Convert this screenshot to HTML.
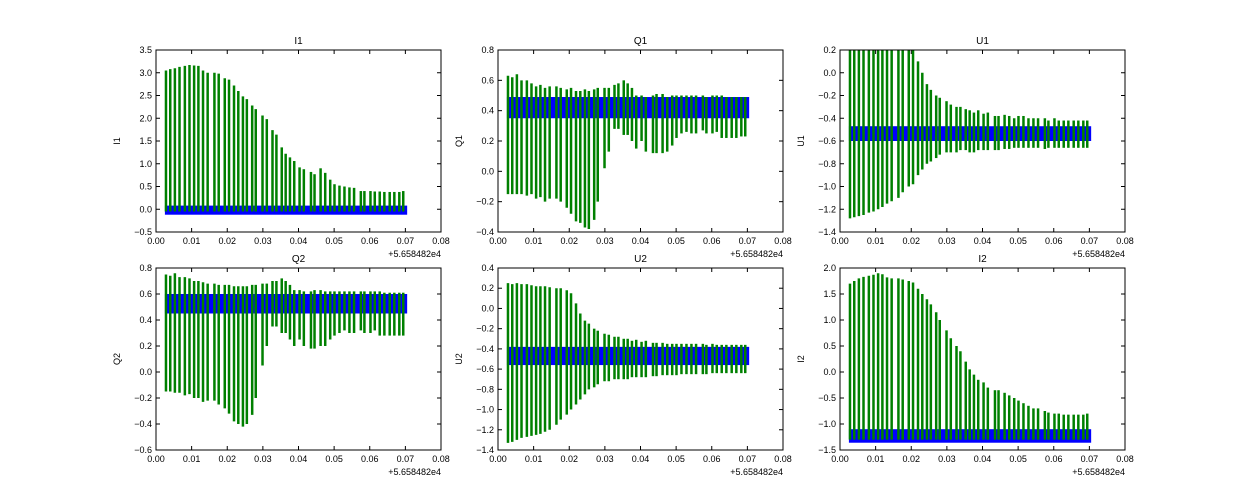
<!DOCTYPE html>
<html><head><meta charset="utf-8"><style>
body{margin:0;background:#fff;}
svg{display:block;font-family:"Liberation Sans",sans-serif;}
</style></head><body>
<svg id="fig" width="1250" height="500"></svg>
<script>
const spikeX=[0.0028,0.0040,0.0053,0.0066,0.0081,0.0094,0.0107,0.0119,0.0132,0.0145,0.0164,0.0176,0.0193,0.0205,0.0219,0.0231,0.0244,0.0255,0.0270,0.0280,0.0299,0.0311,0.0327,0.0338,0.0353,0.0364,0.0376,0.0388,0.0403,0.0415,0.0435,0.0445,0.0462,0.0475,0.0489,0.0501,0.0515,0.0529,0.0543,0.0556,0.0575,0.0585,0.0602,0.0614,0.0628,0.0641,0.0656,0.0669,0.0683,0.0694];
const xTicks=[0,0.01,0.02,0.03,0.04,0.05,0.06,0.07,0.08];
const xTickLabels=["0.00","0.01","0.02","0.03","0.04","0.05","0.06","0.07","0.08"];
const i1Hi=[3.05,3.08,3.1,3.13,3.15,3.17,3.16,3.15,3.05,3.0,3.0,2.98,2.88,2.85,2.72,2.6,2.48,2.42,2.28,2.2,2.06,1.98,1.74,1.64,1.36,1.22,1.14,1.06,0.92,0.88,0.82,0.77,0.9,0.8,0.65,0.55,0.52,0.5,0.48,0.47,0.4,0.4,0.4,0.39,0.39,0.38,0.38,0.38,0.38,0.4];
const i1Lo=spikeX.map(()=>-0.05);
const q1Hi=[0.63,0.62,0.64,0.6,0.6,0.58,0.56,0.57,0.55,0.56,0.56,0.55,0.54,0.55,0.53,0.53,0.54,0.53,0.54,0.55,0.55,0.55,0.57,0.58,0.6,0.58,0.55,0.5,0.5,0.49,0.5,0.51,0.51,0.49,0.5,0.5,0.5,0.5,0.5,0.5,0.5,0.49,0.5,0.5,0.5,0.49,0.49,0.49,0.49,0.49];
const q1Lo=[-0.15,-0.15,-0.15,-0.15,-0.16,-0.15,-0.18,-0.17,-0.2,-0.18,-0.18,-0.2,-0.24,-0.28,-0.33,-0.34,-0.37,-0.38,-0.32,-0.2,0.02,0.13,0.28,0.28,0.24,0.24,0.2,0.15,0.2,0.13,0.12,0.12,0.12,0.13,0.17,0.22,0.25,0.26,0.25,0.25,0.27,0.25,0.25,0.26,0.22,0.22,0.22,0.22,0.23,0.23];
const u1Hi=[0.2,0.2,0.2,0.2,0.2,0.2,0.2,0.2,0.2,0.2,0.2,0.2,0.2,0.2,0.1,0.0,-0.1,-0.15,-0.2,-0.22,-0.25,-0.28,-0.3,-0.3,-0.32,-0.33,-0.35,-0.33,-0.36,-0.35,-0.38,-0.38,-0.37,-0.38,-0.4,-0.38,-0.38,-0.4,-0.4,-0.4,-0.4,-0.42,-0.4,-0.42,-0.42,-0.42,-0.42,-0.42,-0.42,-0.42];
const u1Lo=[-1.28,-1.27,-1.26,-1.25,-1.23,-1.22,-1.2,-1.18,-1.15,-1.13,-1.1,-1.05,-1.0,-0.98,-0.9,-0.85,-0.8,-0.78,-0.75,-0.72,-0.7,-0.7,-0.7,-0.68,-0.68,-0.7,-0.7,-0.68,-0.68,-0.68,-0.68,-0.68,-0.67,-0.67,-0.66,-0.66,-0.66,-0.66,-0.66,-0.66,-0.67,-0.66,-0.66,-0.66,-0.66,-0.66,-0.66,-0.66,-0.66,-0.66];
const q2Hi=[0.75,0.74,0.76,0.73,0.73,0.72,0.7,0.7,0.69,0.68,0.68,0.67,0.67,0.67,0.66,0.66,0.66,0.66,0.67,0.67,0.68,0.68,0.7,0.7,0.72,0.7,0.67,0.63,0.63,0.62,0.62,0.63,0.63,0.62,0.62,0.62,0.62,0.62,0.62,0.62,0.62,0.62,0.62,0.62,0.62,0.61,0.61,0.61,0.61,0.61];
const q2Lo=[-0.15,-0.15,-0.16,-0.16,-0.18,-0.17,-0.2,-0.2,-0.23,-0.22,-0.22,-0.25,-0.28,-0.32,-0.38,-0.4,-0.42,-0.4,-0.33,-0.2,0.05,0.2,0.35,0.35,0.3,0.3,0.25,0.2,0.25,0.2,0.18,0.18,0.2,0.2,0.25,0.28,0.3,0.32,0.3,0.3,0.32,0.3,0.3,0.32,0.28,0.28,0.28,0.28,0.28,0.28];
const u2Hi=[0.25,0.24,0.25,0.24,0.24,0.23,0.22,0.22,0.22,0.21,0.2,0.2,0.18,0.15,0.05,-0.05,-0.12,-0.15,-0.2,-0.22,-0.25,-0.26,-0.28,-0.28,-0.3,-0.3,-0.32,-0.31,-0.33,-0.32,-0.34,-0.34,-0.34,-0.35,-0.35,-0.35,-0.35,-0.35,-0.35,-0.35,-0.35,-0.36,-0.35,-0.36,-0.36,-0.36,-0.36,-0.36,-0.36,-0.36];
const u2Lo=[-1.33,-1.32,-1.3,-1.28,-1.27,-1.26,-1.25,-1.24,-1.22,-1.2,-1.15,-1.1,-1.05,-1.0,-0.95,-0.9,-0.85,-0.8,-0.78,-0.75,-0.72,-0.72,-0.7,-0.7,-0.7,-0.7,-0.68,-0.68,-0.68,-0.68,-0.67,-0.67,-0.66,-0.66,-0.66,-0.66,-0.65,-0.65,-0.65,-0.65,-0.65,-0.65,-0.64,-0.64,-0.64,-0.64,-0.64,-0.64,-0.64,-0.64];
const i2Hi=[1.7,1.75,1.8,1.83,1.85,1.87,1.9,1.88,1.82,1.8,1.8,1.78,1.75,1.72,1.6,1.5,1.4,1.3,1.15,1.0,0.8,0.65,0.5,0.4,0.2,0.05,-0.05,-0.15,-0.2,-0.3,-0.35,-0.35,-0.4,-0.45,-0.5,-0.55,-0.6,-0.65,-0.7,-0.7,-0.75,-0.78,-0.8,-0.8,-0.82,-0.82,-0.82,-0.82,-0.82,-0.8];
const i2Lo=spikeX.map(()=>-1.3);
const panels=[
 {title:"I1",ax:[156,50],y:[-0.5,3.5],yt:[-0.5,0,0.5,1,1.5,2,2.5,3,3.5],yl:["\u22120.5","0.0","0.5","1.0","1.5","2.0","2.5","3.0","3.5"],hi:i1Hi,lo:i1Lo,band:[-0.12,0.08]},
 {title:"Q1",ax:[498,50],y:[-0.4,0.8],yt:[-0.4,-0.2,0,0.2,0.4,0.6,0.8],yl:["\u22120.4","\u22120.2","0.0","0.2","0.4","0.6","0.8"],hi:q1Hi,lo:q1Lo,band:[0.35,0.49]},
 {title:"U1",ax:[840,50],y:[-1.4,0.2],yt:[-1.4,-1.2,-1,-0.8,-0.6,-0.4,-0.2,0,0.2],yl:["\u22121.4","\u22121.2","\u22121.0","\u22120.8","\u22120.6","\u22120.4","\u22120.2","0.0","0.2"],hi:u1Hi,lo:u1Lo,band:[-0.6,-0.47]},
 {title:"Q2",ax:[156,268],y:[-0.6,0.8],yt:[-0.6,-0.4,-0.2,0,0.2,0.4,0.6,0.8],yl:["\u22120.6","\u22120.4","\u22120.2","0.0","0.2","0.4","0.6","0.8"],hi:q2Hi,lo:q2Lo,band:[0.45,0.6]},
 {title:"U2",ax:[498,268],y:[-1.4,0.4],yt:[-1.4,-1.2,-1,-0.8,-0.6,-0.4,-0.2,0,0.2,0.4],yl:["\u22121.4","\u22121.2","\u22121.0","\u22120.8","\u22120.6","\u22120.4","\u22120.2","0.0","0.2","0.4"],hi:u2Hi,lo:u2Lo,band:[-0.56,-0.38]},
 {title:"I2",ax:[840,268],y:[-1.5,2.0],yt:[-1.5,-1,-0.5,0,0.5,1,1.5,2],yl:["\u22121.5","\u22121.0","\u22120.5","0.0","0.5","1.0","1.5","2.0"],hi:i2Hi,lo:i2Lo,band:[-1.36,-1.1]}
];
const NS="http://www.w3.org/2000/svg";
const fig=document.getElementById('fig');
function mk(tag,attrs,parent){const e=document.createElementNS(NS,tag);for(const k in attrs)e.setAttribute(k,attrs[k]);parent.appendChild(e);return e;}
const W=285,H=182;
panels.forEach(p=>{
 const g=mk('g',{},fig);
 
 
 const [x0,y0]=p.ax;
 const sx=v=>x0+v/0.08*W;
 const sy=v=>y0+H-(v-p.y[0])/(p.y[1]-p.y[0])*H;
 const clip='c'+p.title;
 const cp=mk('clipPath',{id:clip},g);mk('rect',{x:x0,y:y0,width:W,height:H},cp);
 const plot=mk('g',{'clip-path':'url(#'+clip+')'},g);
 const band=mk('rect',{x:sx(0.0025),y:sy(p.band[1]),width:sx(0.0705)-sx(0.0025),height:sy(p.band[0])-sy(p.band[1]),fill:'#0000ff'},plot);
 
 
 spikeX.forEach((x,i)=>{
  const l=mk('line',{x1:sx(x),x2:sx(x),y1:sy(p.lo[i]),y2:sy(p.hi[i]),stroke:'#008000','stroke-width':2.5},plot);
  
  
 });
 const fr=mk('rect',{x:x0,y:y0,width:W,height:H,fill:'none',stroke:'#000','stroke-width':1},g);
 
 
 xTicks.forEach((t,i)=>{
  const X=sx(t);
  mk('line',{x1:X,x2:X,y1:y0+H,y2:y0+H-4,stroke:'#000'},g);
  mk('line',{x1:X,x2:X,y1:y0,y2:y0+4,stroke:'#000'},g);
  const tx=mk('text',{x:X,y:y0+H+12,'font-size':9,'text-anchor':'middle'},g);
  tx.textContent=xTickLabels[i];
  
  
 });
 p.yt.forEach((t,i)=>{
  const Y=sy(t);
  mk('line',{x1:x0,x2:x0+4,y1:Y,y2:Y,stroke:'#000'},g);
  mk('line',{x1:x0+W,x2:x0+W-4,y1:Y,y2:Y,stroke:'#000'},g);
  const tx=mk('text',{x:x0-4,y:Y+3,'font-size':9,'text-anchor':'end'},g);
  tx.textContent=p.yl[i];
  
  
 });
 const tt=mk('text',{x:x0+W/2,y:y0-6,'font-size':10,'text-anchor':'middle'},g);
 tt.textContent=p.title;
 
 
 const yl=mk('text',{x:0,y:0,'font-size':9,'text-anchor':'middle',transform:`translate(${x0-36},${y0+H/2}) rotate(-90)`},g);
 yl.textContent=p.title;
 
 
 const off=mk('text',{x:x0+W,y:y0+H+25,'font-size':9,'text-anchor':'end'},g);
 off.textContent='+5.658482e4';
 
 
});
</script>
</body></html>
